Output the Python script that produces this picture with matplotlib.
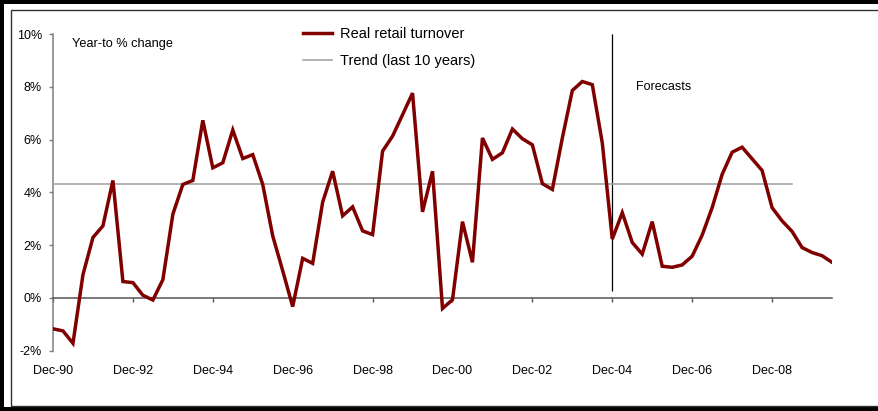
import matplotlib
matplotlib.use("Agg")
import matplotlib.pyplot as plt
from matplotlib.patches import Rectangle

plt.rcParams['font.family'] = ['Liberation Sans', 'DejaVu Sans']

# Quarterly year-to % change, Dec-90 .. Jun-10
retail = [-1.17, -1.25, -1.72, 0.88, 2.29, 2.73, 4.45, 0.62, 0.58, 0.10,
          -0.08, 0.69, 3.17, 4.30, 4.45, 6.73, 4.93, 5.12, 6.36, 5.28,
          5.43, 4.30, 2.35, 1.03, -0.33, 1.50, 1.31, 3.63, 4.80, 3.11,
          3.45, 2.54, 2.40, 5.56, 6.13, 6.94, 7.76, 3.26, 4.80, -0.40,
          -0.07, 2.89, 1.35, 6.06, 5.25, 5.50, 6.40, 6.03, 5.80, 4.33,
          4.11, 6.06, 7.86, 8.20, 8.08, 5.87, 2.23, 3.23, 2.10, 1.66,
          2.89, 1.20, 1.16, 1.25, 1.58, 2.38, 3.42, 4.68, 5.52, 5.71,
          5.27, 4.83, 3.42, 2.92, 2.52, 1.91, 1.72, 1.60, 1.35]
trend_value = 4.32
trend_points = 75          # trend drawn over first 75 quarters
forecast_start = 56        # Dec-04
tick_labels = ['Dec-90', 'Dec-92', 'Dec-94', 'Dec-96', 'Dec-98',
               'Dec-00', 'Dec-02', 'Dec-04', 'Dec-06', 'Dec-08']
y_ticks = [-2, 0, 2, 4, 6, 8, 10]

W, H = 879, 411
fig = plt.figure(figsize=(W / 100, H / 100), dpi=100)
fig.patch.set_facecolor('white')
ax = fig.add_axes([53 / W, 1 - 350.7 / H, (832 - 53) / W, (350.7 - 34) / H])

x = list(range(len(retail)))
ax.plot(x, retail, color='#800000', lw=2.5, solid_joinstyle='miter',
        label='Real retail turnover', zorder=4)
ax.plot(list(range(trend_points)), [trend_value] * trend_points,
        color='#a6a6a6', lw=1.2, label='Trend (last 10 years)', zorder=3)
ax.vlines(forecast_start, 0.25, 10, color='black', lw=0.9, zorder=2)

ax.set_xlim(0, len(retail) - 1)
ax.set_ylim(-2, 10)
ax.set_yticks(y_ticks)
ax.set_yticklabels([f'{v}%' for v in y_ticks])
ax.set_xticks(list(range(0, 8 * len(tick_labels), 8)))
ax.set_xticklabels(tick_labels)

for s in ['top', 'right']:
    ax.spines[s].set_visible(False)
ax.spines['left'].set_color('#7f7f7f')
ax.spines['left'].set_linewidth(1.1)
ax.spines['bottom'].set_position(('data', 0))
ax.spines['bottom'].set_color('#555555')
ax.spines['bottom'].set_linewidth(1.1)
ax.tick_params(axis='y', direction='out', length=3, width=1, color='#7f7f7f',
               labelsize=9, pad=5, labelcolor='black')
ax.tick_params(axis='x', direction='out', length=3, width=1, color='#555555',
               labelsize=9, pad=45, labelcolor='black')
ax.patch.set_alpha(0)

ax.text(72 / W, 1 - 44 / H, 'Year-to % change', transform=fig.transFigure,
        fontsize=9.2, va='center', ha='left')
ax.text(636 / W, 1 - 87 / H, 'Forecasts', transform=fig.transFigure,
        fontsize=9, va='center', ha='left')

leg = ax.legend(loc='upper left', bbox_to_anchor=(293 / W, 1 - 17 / H),
                bbox_transform=fig.transFigure, frameon=False, fontsize=10.5,
                handlelength=2.0, handletextpad=0.5, labelspacing=0.9,
                borderpad=0.2)

# chart frame
def band(x0, y0, x1, y1, **kw):
    fig.add_artist(Rectangle((x0 / W, 1 - y1 / H), (x1 - x0) / W, (y1 - y0) / H,
                             transform=fig.transFigure, **kw))

band(0, 0, W, 4.5, color='black', lw=0)
band(0, 0, 4.5, H, color='black', lw=0)
band(0, 407, W, H, color='black', lw=0)
band(11, 10.5, W + 5, 406, fill=False, edgecolor='#333333', lw=1.0)

fig.savefig('out.png', dpi=100)
